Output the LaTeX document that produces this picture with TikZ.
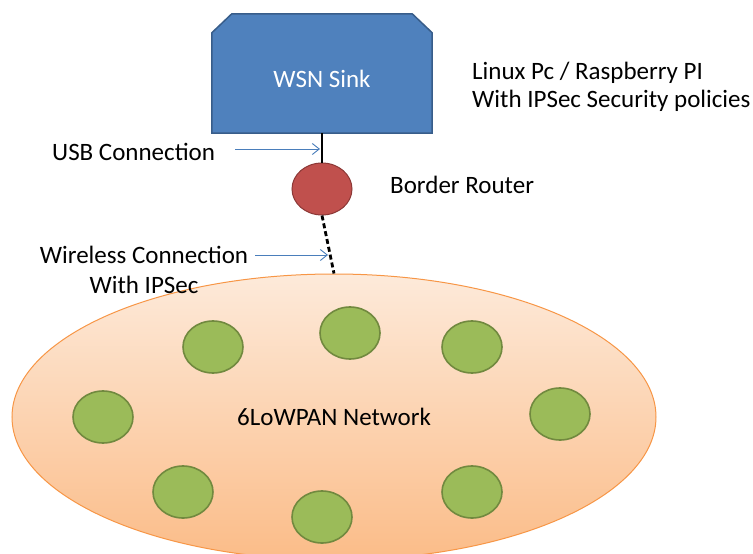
\documentclass[tikz,border=0pt]{standalone}
\usepackage{fontspec}
\setmainfont{Carlito}
\usetikzlibrary{arrows.meta,calc,shapes.geometric}
\definecolor{sinkfill}{HTML}{4F81BD}
\definecolor{sinkline}{HTML}{385D8A}
\definecolor{routerfill}{HTML}{C0504D}
\definecolor{routerline}{HTML}{8C3836}
\definecolor{nodefill}{HTML}{9BBB59}
\definecolor{nodeline}{HTML}{71893F}
\definecolor{nettop}{HTML}{FDEADA}
\definecolor{netbottom}{HTML}{FBBC88}
\definecolor{netline}{HTML}{F79646}
\definecolor{arrowblue}{HTML}{4A7EBB}
\tikzset{
  lbl/.style={font=\fontsize{25}{30}\selectfont, text=black, inner sep=0pt},
  sensor/.style={ellipse, draw=nodeline, fill=nodefill, line width=1.6pt, minimum width=60pt, minimum height=52pt, inner sep=0pt},
  pointer/.style={draw=arrowblue, line width=0.9pt, -{Straight Barb[length=7pt,width=11pt]}},
}
\begin{document}
\begin{tikzpicture}[x=1pt,y=-1pt]
\useasboundingbox (0,0) rectangle (753,554);
\clip (0,0) rectangle (753,554);
% network
\node[ellipse, draw=netline, line width=1pt, top color=nettop, bottom color=netbottom, minimum width=644pt, minimum height=286pt, inner sep=0pt] (net) at (334,417) {};
\node[lbl] (netlbl) at (334,417) {6LoWPAN Network};
\node[sensor] (n1) at (213,347) {};
\node[sensor] (n2) at (350,333) {};
\node[sensor] (n3) at (472,347) {};
\node[sensor] (n4) at (103,417) {};
\node[sensor] (n5) at (560,414) {};
\node[sensor] (n6) at (183,492) {};
\node[sensor] (n7) at (322,517) {};
\node[sensor] (n8) at (472,492) {};
% sink
\node[minimum width=220pt, minimum height=119pt, inner sep=0pt] (sink) at (322,73.5) {};
\filldraw[fill=sinkfill, draw=sinkline, line width=1.5pt]
  (sink.south west) -- ($(sink.north west)+(0,19)$) -- ($(sink.north west)+(20,0)$)
  -- ($(sink.north east)+(-20,0)$) -- ($(sink.north east)+(0,19)$) -- (sink.south east) -- cycle;
\node[lbl, text=white] (sinklbl) at (322,79) {WSN Sink};
% router
\node[ellipse, draw=routerline, fill=routerfill, line width=1pt, minimum width=60pt, minimum height=52pt, inner sep=0pt] (router) at (322,189) {};
% links
\draw[line width=2.2pt, black] (sink.south) -- (router.north);
\draw[line width=2.8pt, black, dash pattern=on 5pt off 3pt] (router.south) -- (net.north);
% labels
\node[lbl, anchor=west] (usb) at (52,152) {USB Connection};
\node[lbl, anchor=west] (br) at (390,185) {Border Router};
\node[lbl, align=center] (wl) at (144,270) {Wireless Connection\\With IPSec};
\node[lbl, anchor=west, align=left, font=\fontsize{25}{28}\selectfont] (linux) at (472,87) {Linux Pc / Raspberry PI\\With IPSec Security policies};
% pointers
\coordinate (usbA) at (235,149);
\coordinate (usbB) at (320,149);
\coordinate (wlA) at (255,255);
\coordinate (wlB) at (328,255);
\draw[pointer] (usbA) -- (usbB);
\draw[pointer] (wlA) -- (wlB);
\end{tikzpicture}
\end{document}
